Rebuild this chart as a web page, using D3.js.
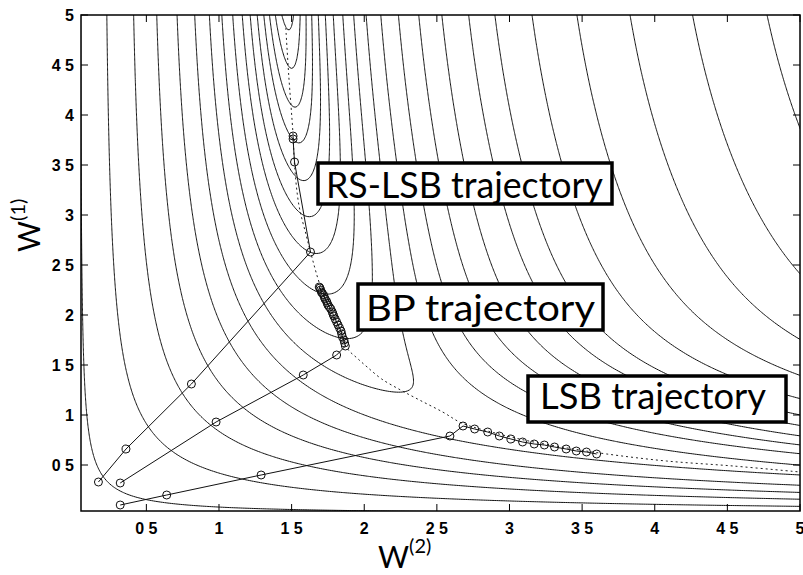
<!DOCTYPE html>
<html>
<head>
<meta charset="utf-8">
<script src="https://cdn.jsdelivr.net/npm/d3@7"></script>
<style>
  body { margin: 0; background: #fff; }
  svg { display: block; }
</style>
</head>
<body>
<div id="chart"></div>
<script>
// error surface: one hidden unit, linear output, two input patterns with the same target
const patternInputs = [0.27, 0.79];
const patternTargets = [1.38, 1.38];
const contourLevels = [0.012, 0.02, 0.03, 0.045, 0.065, 0.095, 0.135, 0.19, 0.27, 0.38,
  0.53, 0.74, 1.04, 1.45, 2.0, 2.75, 3.6, 5.0, 7.0, 9.8, 13.7, 19.2];

// trajectories (x = W(2), y = W(1))
const lsbW2 = [0.32, 0.64, 1.29, 2.59, 2.68, 2.76, 2.85, 2.93, 3.01, 3.09, 3.17, 3.24, 3.31, 3.39, 3.46, 3.53, 3.60];
const lsbW1 = [0.10, 0.20, 0.40, 0.79, 0.89, 0.86, 0.83, 0.79, 0.76, 0.73, 0.71, 0.70, 0.68, 0.66, 0.64, 0.63, 0.61];
const bpW2 = [0.32, 0.98, 1.58, 1.81, 1.87, 1.865, 1.86, 1.85, 1.845, 1.84, 1.83, 1.82, 1.81, 1.80, 1.79,
  1.785, 1.78, 1.77, 1.76, 1.75, 1.745, 1.74, 1.73, 1.725, 1.72, 1.71, 1.705, 1.70, 1.695, 1.69];
const bpW1 = [0.32, 0.93, 1.40, 1.60, 1.69, 1.72, 1.75, 1.78, 1.81, 1.84, 1.87, 1.90, 1.93, 1.96, 1.99,
  2.01, 2.03, 2.06, 2.08, 2.10, 2.12, 2.14, 2.16, 2.18, 2.20, 2.22, 2.23, 2.25, 2.27, 2.28];
const rslsbW2 = [0.17, 0.36, 0.81, 1.63, 1.52, 1.51, 1.51];
const rslsbW1 = [0.33, 0.66, 1.31, 2.63, 3.53, 3.76, 3.79];
const valleyW2 = [1.46, 1.48, 1.51, 1.52, 1.55, 1.60, 1.63, 1.70, 1.78, 1.88, 1.95, 2.02, 2.12, 2.25, 2.38, 2.54, 2.67, 2.85, 3.10, 3.40, 3.67, 4.08, 4.54, 5.00];
const valleyW1 = [4.87, 4.40, 3.80, 3.50, 3.10, 2.80, 2.63, 2.28, 2.00, 1.67, 1.57, 1.48, 1.36, 1.25, 1.15, 1.03, 0.92, 0.84, 0.75, 0.67, 0.61, 0.54, 0.49, 0.43];

const tickValues = [0.5, 1, 1.5, 2, 2.5, 3, 3.5, 4, 4.5, 5];
const tickLabels = ["0 5", "1", "1 5", "2", "2 5", "3", "3 5", "4", "4 5", "5"];

const labels = [
  {text: "RS-LSB trajectory", x0: 318, y0: 163, x1: 612, y1: 204, tx: 326, ty: 198, tw: 277},
  {text: "BP trajectory", x0: 358, y0: 284, x1: 603, y1: 330, tx: 366, ty: 321, tw: 229},
  {text: "LSB trajectory", x0: 528, y0: 376, x1: 786, y1: 422, tx: 540, ty: 409, tw: 226}
];

const width = 803, height = 575;
const margin = {left: 81, right: 3, top: 15, bottom: 64};

const x = d3.scaleLinear().domain([0.05, 5]).range([margin.left, width - margin.right]);
const y = d3.scaleLinear().domain([0.04, 5]).range([height - margin.bottom, margin.top]);

const svg = d3.select("#chart").append("svg")
  .attr("width", width)
  .attr("height", height);

svg.append("clipPath").attr("id", "plotclip")
  .append("rect")
  .attr("x", x(0.05)).attr("y", y(5))
  .attr("width", x(5) - x(0.05)).attr("height", y(0.04) - y(5));

// grid of the error surface
const g0 = -0.02, step = 0.0125, n = 420;
const values = new Array(n * n);
for (let j = 0; j < n; j++) {
  const w1 = g0 + j * step;
  for (let i = 0; i < n; i++) {
    const w2 = g0 + i * step;
    let e = 0;
    for (let p = 0; p < patternInputs.length; p++) {
      const r = patternTargets[p] - w2 * Math.tanh(w1 * patternInputs[p]);
      e += r * r;
    }
    values[j * n + i] = e;
  }
}

const contours = d3.contours().size([n, n]).thresholds(contourLevels)(values);
const proj = d3.geoTransform({
  point: function(u, v) {
    this.stream.point(x(g0 + u * step), y(g0 + v * step));
  }
});
const path = d3.geoPath(proj);

const plot = svg.append("g").attr("clip-path", "url(#plotclip)");
plot.selectAll("path.contour")
  .data(contours)
  .enter().append("path")
  .attr("class", "contour")
  .attr("d", path)
  .attr("fill", "none")
  .attr("stroke", "#111")
  .attr("stroke-width", 1);

// valley (dotted)
const line = d3.line().x(d => x(d[0])).y(d => y(d[1])).curve(d3.curveCatmullRom);
plot.append("path")
  .attr("d", line(d3.zip(valleyW2, valleyW1)))
  .attr("fill", "none")
  .attr("stroke", "#222")
  .attr("stroke-width", 1)
  .attr("stroke-dasharray", "2,3");

const straight = d3.line().x(d => x(d[0])).y(d => y(d[1]));
const trajectories = [d3.zip(lsbW2, lsbW1), d3.zip(bpW2, bpW1), d3.zip(rslsbW2, rslsbW1)];
trajectories.forEach(pts => {
  plot.append("path")
    .attr("d", straight(pts))
    .attr("fill", "none")
    .attr("stroke", "#111")
    .attr("stroke-width", 1);
  plot.selectAll(null)
    .data(pts)
    .enter().append("circle")
    .attr("cx", d => x(d[0]))
    .attr("cy", d => y(d[1]))
    .attr("r", 4)
    .attr("fill", "none")
    .attr("stroke", "#111")
    .attr("stroke-width", 1);
});

// frame and inward ticks
svg.append("rect")
  .attr("x", x(0.05)).attr("y", y(5))
  .attr("width", x(5) - x(0.05)).attr("height", y(0.04) - y(5))
  .attr("fill", "none").attr("stroke", "#000").attr("stroke-width", 1.5);

const tickLen = 7;
tickValues.forEach(v => {
  svg.append("line").attr("x1", x(v)).attr("x2", x(v)).attr("y1", y(0.04)).attr("y2", y(0.04) - tickLen).attr("stroke", "#000");
  svg.append("line").attr("x1", x(v)).attr("x2", x(v)).attr("y1", y(5)).attr("y2", y(5) + tickLen).attr("stroke", "#000");
  svg.append("line").attr("y1", y(v)).attr("y2", y(v)).attr("x1", x(0.05)).attr("x2", x(0.05) + tickLen).attr("stroke", "#000");
  svg.append("line").attr("y1", y(v)).attr("y2", y(v)).attr("x1", x(5)).attr("x2", x(5) - tickLen).attr("stroke", "#000");
});

const tickFont = "'Liberation Sans', Arial, sans-serif";
svg.selectAll("text.xtick")
  .data(tickValues)
  .enter().append("text")
  .attr("class", "xtick")
  .attr("x", d => x(d))
  .attr("y", y(0.04) + 23)
  .attr("text-anchor", "middle")
  .attr("font-family", tickFont)
  .attr("font-weight", "bold")
  .attr("font-size", 16)
  .text((d, i) => tickLabels[i]);

svg.selectAll("text.ytick")
  .data(tickValues)
  .enter().append("text")
  .attr("class", "ytick")
  .attr("x", x(0.05) - 7)
  .attr("y", d => y(d) + 6)
  .attr("text-anchor", "end")
  .attr("font-family", tickFont)
  .attr("font-weight", "bold")
  .attr("font-size", 16)
  .text((d, i) => tickLabels[i]);

// axis titles
const titleFont = "Lato, 'DejaVu Sans', sans-serif";
const xt = svg.append("text")
  .attr("x", 378).attr("y", 568)
  .attr("font-family", titleFont)
  .attr("font-size", 30);
xt.append("tspan").text("W");
xt.append("tspan").attr("font-size", 20).attr("dy", -15).text("(2)");

const yt = svg.append("text")
  .attr("transform", "translate(40,252) rotate(-90)")
  .attr("font-family", titleFont)
  .attr("font-size", 30);
yt.append("tspan").text("W");
yt.append("tspan").attr("font-size", 20).attr("dy", -15).text("(1)");

// boxed annotations
labels.forEach(l => {
  svg.append("rect")
    .attr("x", l.x0).attr("y", l.y0)
    .attr("width", l.x1 - l.x0).attr("height", l.y1 - l.y0)
    .attr("fill", "#fff").attr("stroke", "#000").attr("stroke-width", 3.5);
  svg.append("text")
    .attr("x", l.tx).attr("y", l.ty)
    .attr("font-family", titleFont)
    .attr("font-size", 37)
    .attr("textLength", l.tw)
    .attr("lengthAdjust", "spacingAndGlyphs")
    .text(l.text);
});
</script>
</body>
</html>
